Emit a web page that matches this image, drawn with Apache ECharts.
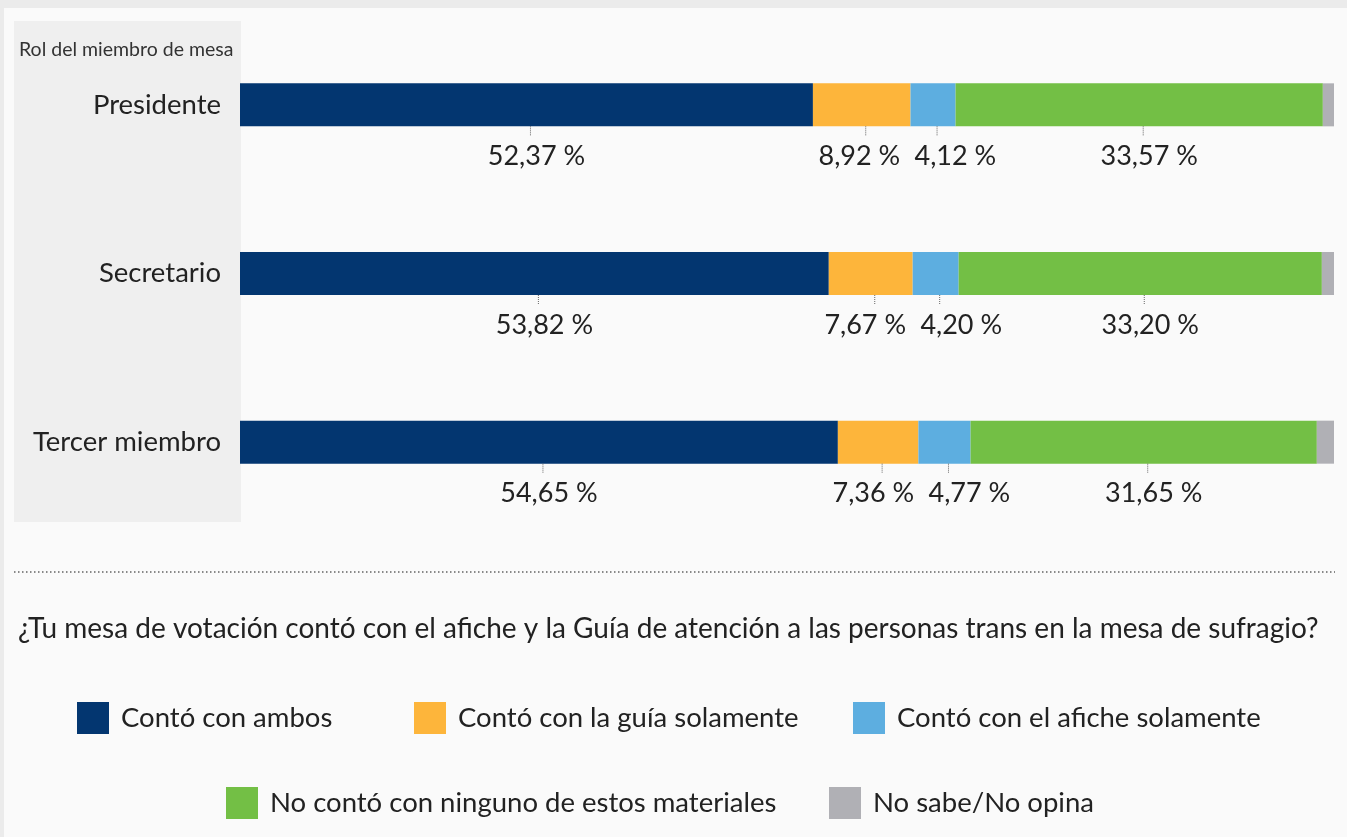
<!DOCTYPE html>
<html>
<head>
<meta charset="utf-8">
<script src="https://cdn.jsdelivr.net/npm/echarts@6/dist/echarts.min.js"></script>
<style>
  html, body { margin: 0; padding: 0; background: #ebebeb; }
  #chart { width: 1347px; height: 837px; }
</style>
</head>
<body>
<div id="chart"></div>
<script>
const categories = ['Presidente', 'Secretario', 'Tercer miembro'];
const seriesNames = ['Contó con ambos', 'Contó con la guía solamente', 'Contó con el afiche solamente', 'No contó con ninguno de estos materiales', 'No sabe/No opina'];
const ambos = [52.37, 53.82, 54.65];
const guia = [8.92, 7.67, 7.36];
const afiche = [4.12, 4.20, 4.77];
const ninguno = [33.57, 33.20, 31.65];
const noSabe = [1.02, 1.11, 1.57];
const colors = ['#033670', '#FDB53B', '#5DAEE0', '#73BF45', '#B0B0B5'];
const labelledSeries = [ambos, guia, afiche, ninguno];

const FONT = 'Lato';
const BAR_H = 43;

function fmt(v) { return v.toFixed(2).replace('.', ',') + ' %'; }

const allSeries = [ambos, guia, afiche, ninguno, noSabe];
const barSeries = allSeries.map((arr, k) => ({
  name: seriesNames[k],
  type: 'bar',
  stack: 'total',
  barWidth: BAR_H,
  data: arr,
  itemStyle: { color: colors[k] },
  emphasis: { disabled: true },
  silent: true
}));

const labelSeries = {
  type: 'custom',
  silent: true,
  data: categories.map((c, i) => [0, i]),
  encode: { x: 0, y: 1 },
  z: 5,
  renderItem: function (params, api) {
    const row = params.dataIndex;
    const children = [];
    let cum = 0;
    const xs = [];
    let yc = 0;
    labelledSeries.forEach((arr) => {
      const v = arr[row];
      const p = api.coord([cum + v / 2, row]);
      xs.push(p[0] + 4);
      yc = p[1];
      cum += v;
    });
    const ticks = xs.slice();
    const minGap = 96;
    for (let pass = 0; pass < 3; pass++) {
      for (let k = 1; k < xs.length; k++) {
        const d = minGap - (xs[k] - xs[k - 1]);
        if (d > 0) { xs[k - 1] -= d / 2; xs[k] += d / 2; }
      }
    }
    const yb = yc + BAR_H / 2;
    labelledSeries.forEach((arr, k) => {
      children.push({
        type: 'line',
        shape: { x1: ticks[k], y1: yb, x2: ticks[k], y2: yb + 10 },
        style: { stroke: '#666', lineWidth: 1, lineDash: [1, 1] }
      });
      children.push({
        type: 'text',
        style: {
          x: xs[k] + 6, y: yb + 30,
          text: fmt(arr[row]),
          fill: '#222',
          font: '27px ' + FONT,
          textAlign: 'center',
          textVerticalAlign: 'middle'
        }
      });
    });
    return { type: 'group', children: children };
  }
};

function legendItem(idx, left, top) {
  return {
    data: [seriesNames[idx]],
    left: left, top: top,
    padding: 0,
    icon: 'rect',
    itemWidth: 32, itemHeight: 32,
    selectedMode: false,
    textStyle: { fontSize: 27.5, color: '#222', fontFamily: FONT, padding: [0, 0, 0, 7] }
  };
}

const chart = echarts.init(document.getElementById('chart'));
chart.setOption({
  backgroundColor: '#fafafa',
  animation: false,
  grid: { left: 240, right: 13, top: 20.5, height: 506 },
  xAxis: { type: 'value', min: 0, max: 100, show: false },
  yAxis: {
    type: 'category',
    data: categories,
    inverse: true,
    axisLine: { show: false },
    axisTick: { show: false },
    axisLabel: { margin: 19, fontSize: 27.5, color: '#222', fontFamily: FONT, padding: [0, 0, 6, 0] }
  },
  legend: [
    legendItem(0, 77, 702),
    legendItem(1, 414, 702),
    legendItem(2, 853, 702),
    legendItem(3, 226, 787),
    legendItem(4, 829, 787)
  ],
  graphic: [
    { type: 'rect', z: -10, shape: { x: 0, y: 0, width: 1347, height: 8 }, style: { fill: '#ebebeb' } },
    { type: 'rect', z: -10, shape: { x: 0, y: 0, width: 4, height: 837 }, style: { fill: '#ebebeb' } },
    { type: 'rect', z: -9, shape: { x: 14, y: 21, width: 227, height: 501 }, style: { fill: '#efefef' } },
    { type: 'text', left: 19, top: 40, style: { text: 'Rol del miembro de mesa', fill: '#333', font: '19.5px ' + FONT } },
    { type: 'line', shape: { x1: 14, y1: 572, x2: 1335, y2: 572 }, style: { stroke: '#888', lineWidth: 2, lineDash: [1.5, 2.5] } },
    { type: 'text', left: 18, top: 615, style: { text: '¿Tu mesa de votación contó con el afiche y la Guía de atención a las personas trans en la mesa de sufragio?', fill: '#222', font: '28px ' + FONT } }
  ],
  series: barSeries.concat([labelSeries])
});
</script>
</body>
</html>
